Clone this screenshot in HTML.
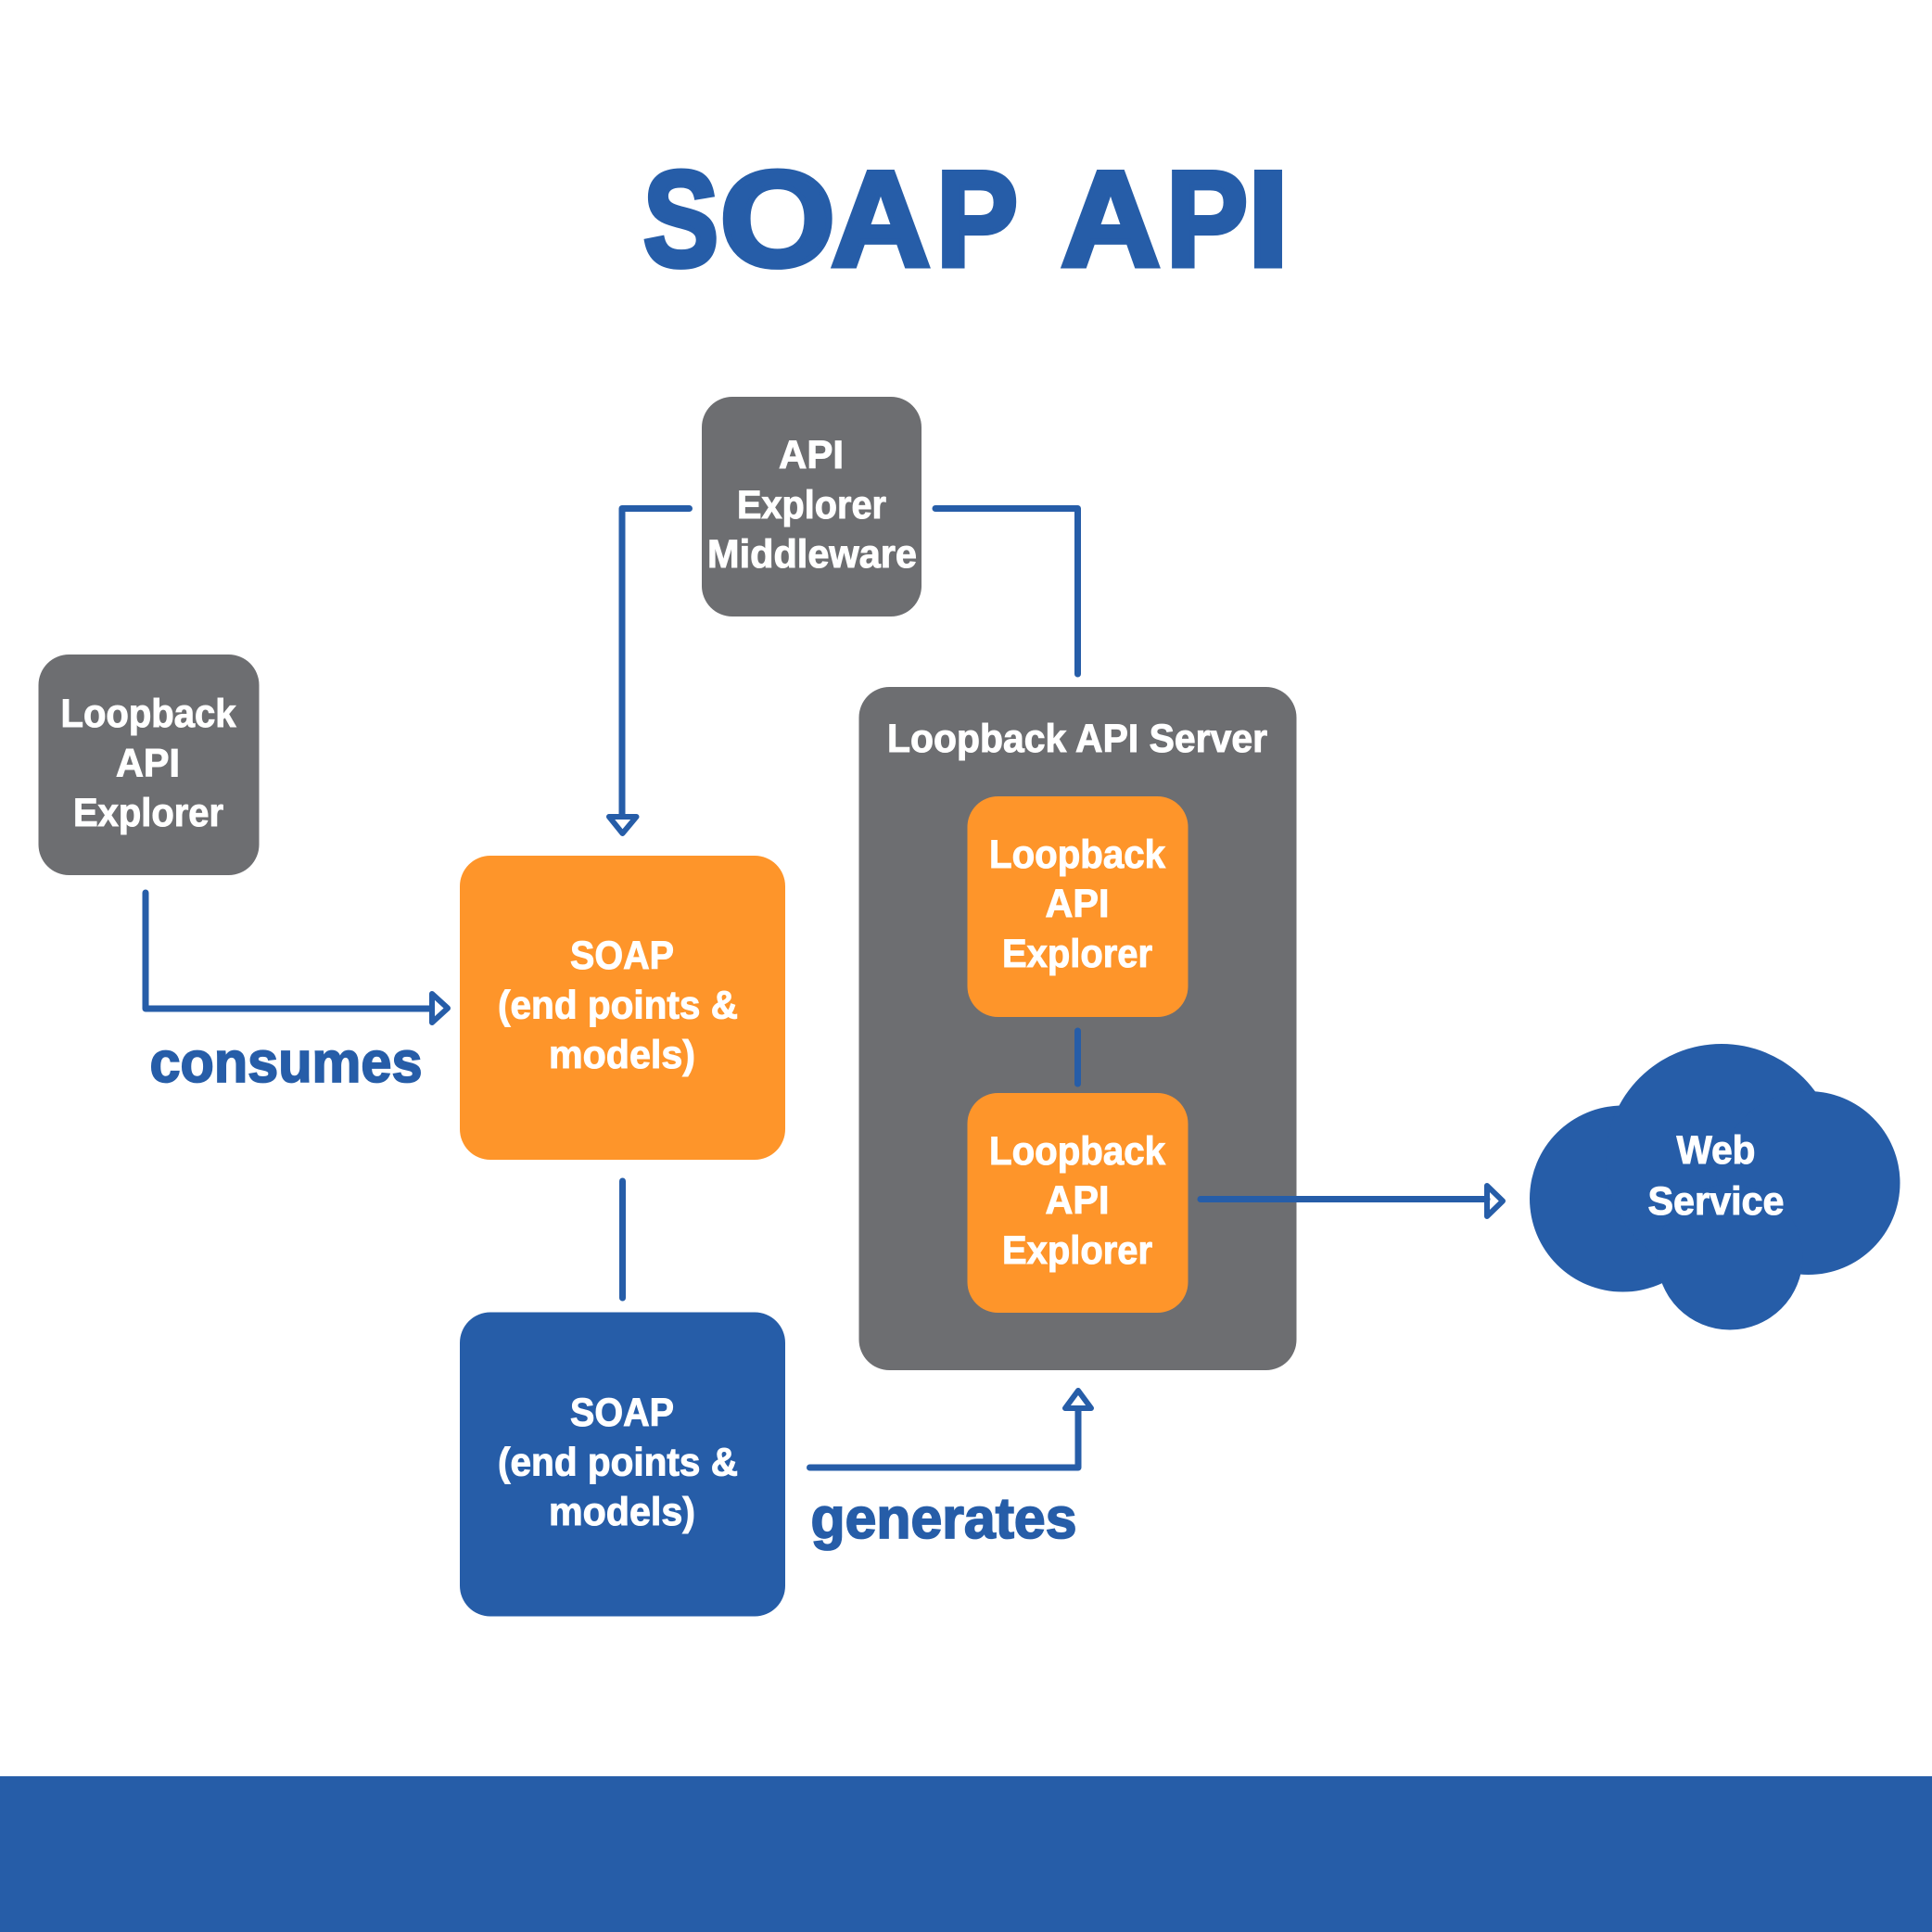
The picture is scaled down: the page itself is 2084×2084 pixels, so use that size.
<!DOCTYPE html>
<html lang="en">
<head>
<meta charset="utf-8">
<title>SOAP API</title>
<style>
html,body{margin:0;padding:0;background:#fff;width:2084px;height:2084px;overflow:hidden}
svg{display:block}
text{font-family:"Liberation Sans",sans-serif;font-weight:700}
.w{fill:#fff;stroke:#fff;stroke-width:1;font-size:43px}
.b{fill:#265DA8;stroke:#265DA8;stroke-width:1.800;font-size:62px}
.t{fill:#265DA8;stroke:#265DA8;stroke-width:6;stroke-linejoin:miter;font-size:146px}
.l{fill:none;stroke:#265DA8;stroke-width:7;stroke-linecap:round;stroke-linejoin:round}
.a{fill:none;stroke:#265DA8;stroke-width:6;stroke-linecap:round;stroke-linejoin:round}
</style>
</head>
<body>
<svg width="2084" height="2084" viewBox="0 0 2084 2084" xmlns="http://www.w3.org/2000/svg">
<rect width="2084" height="2084" fill="#fff"/>
<rect x="0" y="1916" width="2084" height="168" fill="#265DA8"/>

<text class="t" y="286.500" xml:space="preserve"><tspan x="694" textLength="81" lengthAdjust="spacingAndGlyphs">S</tspan><tspan x="776.500" textLength="124.600" lengthAdjust="spacingAndGlyphs">O</tspan><tspan x="896.500" textLength="107" lengthAdjust="spacingAndGlyphs">A</tspan><tspan x="1010" textLength="88" lengthAdjust="spacingAndGlyphs">P</tspan><tspan x="1144.500" textLength="107" lengthAdjust="spacingAndGlyphs">A</tspan><tspan x="1258" textLength="88" lengthAdjust="spacingAndGlyphs">P</tspan><tspan x="1345.500" textLength="45" lengthAdjust="spacingAndGlyphs">I</tspan></text>

<rect x="757" y="428" width="237" height="237" rx="33" fill="#6D6E71"/>
<rect x="41.500" y="706" width="238" height="238" rx="33" fill="#6D6E71"/>
<rect x="496" y="923" width="351" height="328" rx="33" fill="#FE952A"/>
<rect x="496" y="1415.500" width="351" height="328" rx="33" fill="#265DA8"/>
<rect x="926.500" y="741" width="472" height="737" rx="33" fill="#6D6E71"/>
<rect x="1043.500" y="859" width="238" height="238" rx="33" fill="#FE952A"/>
<rect x="1043.500" y="1179" width="238" height="237" rx="33" fill="#FE952A"/>

<g fill="#265DA8">
<circle cx="1750.500" cy="1293" r="100.500"/>
<circle cx="1857" cy="1251" r="125"/>
<circle cx="1950.500" cy="1276" r="99"/>
<circle cx="1866" cy="1356" r="78.500"/>
</g>

<path class="l" d="M743.500 548.500H671V880"/>
<path class="a" d="M657 881H686.500L671.500 899Z"/>
<path class="l" d="M1009 548.500H1162.500V727"/>
<path class="l" d="M157 963V1088H464"/>
<path class="a" d="M466 1072V1103L483 1087.500Z"/>
<path class="l" d="M671.500 1274V1400"/>
<path class="l" d="M873.500 1583H1163V1520"/>
<path class="a" d="M1149 1519H1177L1163 1500Z"/>
<path class="l" d="M1162.500 1112V1169"/>
<path class="l" d="M1295 1293.500H1604"/>
<path class="a" d="M1604 1279V1312L1621 1295.500Z"/>

<text class="w" x="840" y="505" textLength="70" lengthAdjust="spacingAndGlyphs">API</text>
<text class="w" x="795" y="559" textLength="161" lengthAdjust="spacingAndGlyphs">Explorer</text>
<text class="w" x="763" y="612" textLength="226" lengthAdjust="spacingAndGlyphs">Middleware</text>

<text class="w" x="65.500" y="784" textLength="189" lengthAdjust="spacingAndGlyphs">Loopback</text>
<text class="w" x="125" y="837.500" textLength="69" lengthAdjust="spacingAndGlyphs">API</text>
<text class="w" x="79" y="891" textLength="162" lengthAdjust="spacingAndGlyphs">Explorer</text>

<text class="w" x="615" y="1045" textLength="112" lengthAdjust="spacingAndGlyphs">SOAP</text>
<text class="w" x="537" y="1098.500" textLength="259" lengthAdjust="spacingAndGlyphs">(end points &amp;</text>
<text class="w" x="592" y="1152" textLength="158" lengthAdjust="spacingAndGlyphs">models)</text>

<text class="w" x="615" y="1538" textLength="112" lengthAdjust="spacingAndGlyphs">SOAP</text>
<text class="w" x="537" y="1591.500" textLength="259" lengthAdjust="spacingAndGlyphs">(end points &amp;</text>
<text class="w" x="592" y="1645" textLength="158" lengthAdjust="spacingAndGlyphs">models)</text>

<text class="w" x="957" y="811" textLength="410" lengthAdjust="spacingAndGlyphs">Loopback API Server</text>

<text class="w" x="1067" y="936" textLength="190" lengthAdjust="spacingAndGlyphs">Loopback</text>
<text class="w" x="1127.500" y="989" textLength="69" lengthAdjust="spacingAndGlyphs">API</text>
<text class="w" x="1081" y="1043" textLength="162" lengthAdjust="spacingAndGlyphs">Explorer</text>

<text class="w" x="1067" y="1256" textLength="190" lengthAdjust="spacingAndGlyphs">Loopback</text>
<text class="w" x="1127.500" y="1309" textLength="69" lengthAdjust="spacingAndGlyphs">API</text>
<text class="w" x="1081" y="1363" textLength="162" lengthAdjust="spacingAndGlyphs">Explorer</text>

<text class="w" x="1808.500" y="1255" textLength="85" lengthAdjust="spacingAndGlyphs">Web</text>
<text class="w" x="1777.500" y="1310" textLength="147" lengthAdjust="spacingAndGlyphs">Service</text>

<text class="b" x="161.500" y="1167" textLength="294" lengthAdjust="spacingAndGlyphs">consumes</text>
<text class="b" x="874.500" y="1659" textLength="287" lengthAdjust="spacingAndGlyphs">generates</text>
</svg>
</body>
</html>
